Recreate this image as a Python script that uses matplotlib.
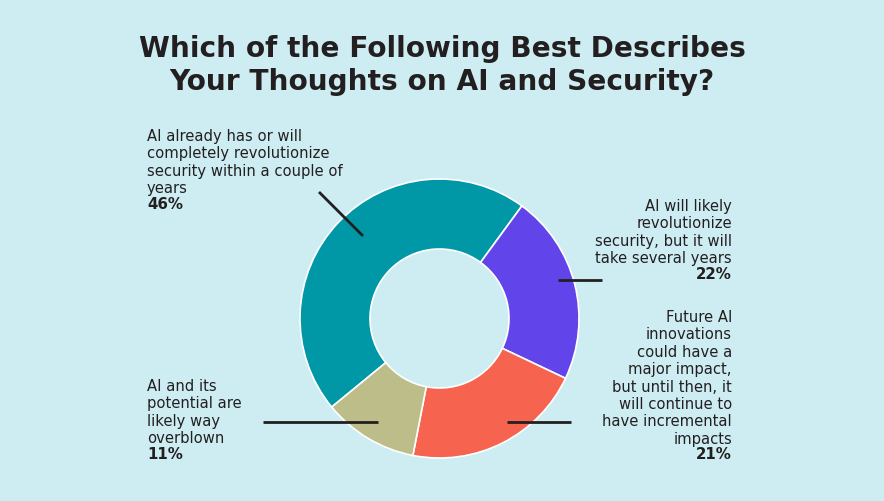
import matplotlib.pyplot as plt

plt.rcParams['font.family'] = ['DejaVu Sans']

title = "Which of the Following Best Describes\nYour Thoughts on AI and Security?"
answers = [
    "AI already has or will\ncompletely revolutionize\nsecurity within a couple of\nyears",
    "AI will likely\nrevolutionize\nsecurity, but it will\ntake several years",
    "Future AI\ninnovations\ncould have a\nmajor impact,\nbut until then, it\nwill continue to\nhave incremental\nimpacts",
    "AI and its\npotential are\nlikely way\noverblown",
]
shares = [46, 22, 21, 11]
colors = ["#0097a7", "#6245ea", "#f6634f", "#bdbd8a"]
bg = "#cdedf2"

W, H = 884, 501
fig = plt.figure(figsize=(W / 100, H / 100), dpi=100, facecolor=bg)
ax = fig.add_axes([0, 0, 1, 1])
ax.set_facecolor(bg)

cx, cy, r = 439.5, H - 318.5, 139.5
ax.pie(shares, colors=colors, startangle=219.4, counterclock=False,
       center=(cx, cy), radius=r, frame=True,
       wedgeprops=dict(width=70, edgecolor="white", linewidth=1.2))
ax.set_xlim(0, W)
ax.set_ylim(0, H)
ax.set_aspect("equal")
ax.axis("off")

fig.text(0.5, 1 - 35 / H, title, ha="center", va="top", fontsize=20.2,
         fontweight="bold", color="#231f20", linespacing=1.25)

txt = dict(fontsize=10.6, color="#231f20", linespacing=1.2)
# label blocks: (x, top y in px, ha, index)
blocks = [(147, 129, "left", 0), (732, 199, "right", 1),
          (732, 310, "right", 2), (147, 379, "left", 3)]
for x, ytop, ha, i in blocks:
    n = answers[i].count("\n") + 1
    ax.text(x, H - ytop, answers[i], ha=ha, va="top", **txt)
    ax.text(x, H - ytop - n * 17.1, f"{shares[i]}%", ha=ha, va="top",
            fontsize=10.8, fontweight="bold", color="#231f20")

# leader lines
leaders = [((319, 192), (363, 236)), ((558, 280), (602, 280)),
           ((507, 422), (571, 422)), ((263, 422), (378, 422))]
for (x0, y0), (x1, y1) in leaders:
    ax.plot([x0, x1], [H - y0, H - y1], color="#231f20", lw=2,
            solid_capstyle="butt")

fig.savefig("out.png", dpi=100, facecolor=bg)
